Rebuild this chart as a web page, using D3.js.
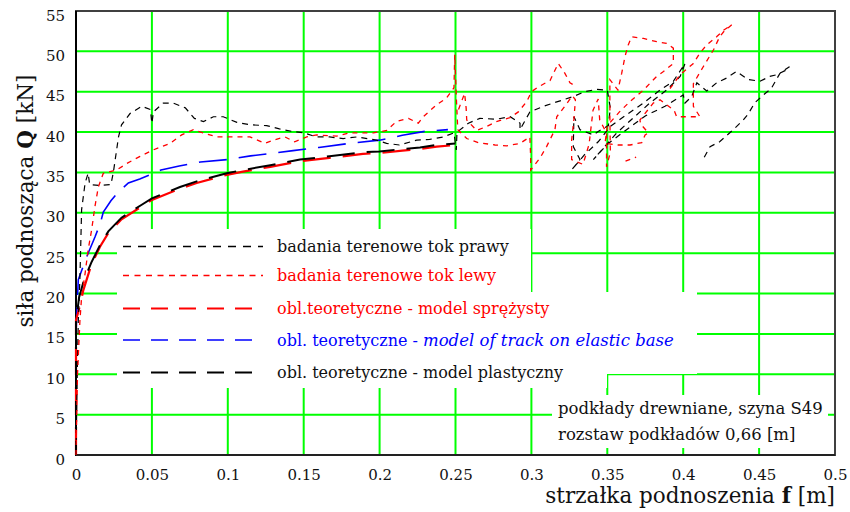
<!DOCTYPE html>
<html>
<head>
<meta charset="utf-8">
<script src="https://cdn.jsdelivr.net/npm/d3@7"></script>
<style>
body { margin: 0; background: #fff; }
svg text { font-family: "DejaVu Serif", serif; }
</style>
</head>
<body>
<svg id="chart" width="850" height="512"></svg>
<script>
// tick values / labels
const xTickValues = [0, 0.05, 0.1, 0.15, 0.2, 0.25, 0.3, 0.35, 0.4, 0.45, 0.5];
const xTickLabels = ["0", "0.05", "0.1", "0.15", "0.2", "0.25", "0.3", "0.35", "0.4", "0.45", "0.5"];
const yTickValues = [0, 5, 10, 15, 20, 25, 30, 35, 40, 45, 50, 55];

// badania terenowe tok prawy  [f, Q]
const tokPrawy = [[0,0],[0.001,12],[0.0015,16.5],[0.0026,22],[0.0037,30.4],[0.006,33.7],[0.008,34.9],[0.009,33.5],[0.015,33.4],[0.023,33.5],[0.0246,35],
  [0.028,39.4],[0.030,40.9],[0.0356,42.3],[0.0433,43.2],[0.049,42.8],[0.050,41.1],[0.051,42.5],[0.0575,43.6],[0.064,43.6],[0.072,43.0],[0.078,41.7],
  [0.084,41.3],[0.0905,41.9],[0.097,41.9],[0.106,41.2],[0.1146,40.9],[0.1256,40.8],[0.134,40.4],[0.142,40.1],[0.150,39.9],[0.1585,39.4],[0.167,39.4],
  [0.176,39.2],[0.185,39.4],[0.198,39.0],[0.2046,38.6],[0.213,38.4],[0.2244,39.0],[0.233,39.1],[0.242,39.4],[0.249,39.9],[0.2505,37.8],[0.251,40],
  [0.2585,41.1],[0.266,41.7],[0.277,41.6],[0.286,41.9],[0.2925,41.1],[0.2925,40.3],[0.299,42.5],[0.308,43.2],[0.3144,43.6],[0.321,44.0],[0.3276,44.4],
  [0.335,45.0],[0.343,45.3],[0.350,45.2],[0.352,43.0],[0.3507,40.8],[0.345,40.2],[0.3408,39.65],[0.332,40.3],[0.328,41.9],[0.3276,38.2],[0.332,36.6],
  [0.3265,35.3],[0.335,37.2],[0.344,38.8],[0.352,40.7],[0.3638,42.3],[0.3738,43.6],[0.3847,45.2],[0.3935,46.3],[0.4012,48.5],[0.398,46.9],[0.389,45.2],
  [0.378,43.6],[0.3562,39.9],[0.3408,36.6],[0.350,38.5],[0.362,40.2],[0.375,42.0],[0.388,43.2],[0.400,44.6],[0.4012,43.6],[0.4056,44.4],[0.409,46.1],
  [0.4155,45.1],[0.422,46.1],[0.4286,46.7],[0.435,47.5],[0.443,46.5],[0.4506,46.3],[0.457,46.9],[0.4616,47.1],[0.468,47.7],[0.470,48.1],[0.4638,47.3],
  [0.458,45.4],[0.4528,44.6],[0.447,43.6],[0.443,42.3],[0.4396,41.5],[0.433,40.3],[0.424,38.8],[0.4177,38.2],[0.413,36.6]];

// badania terenowe tok lewy  (null = break in the record)
const tokLewy = [[0,0],[0.001,10],[0.0026,16.7],[0.0037,19.6],[0.006,22.5],[0.008,25.4],[0.0103,27.9],[0.0125,30.8],[0.0147,33.2],[0.018,34.9],
  [0.0268,35.3],[0.0334,36.1],[0.0422,37.0],[0.051,37.8],[0.0619,38.6],[0.0696,39.65],[0.0773,40.3],[0.0839,39.9],[0.0927,39.4],[0.1036,39.4],
  [0.1146,39.4],[0.1245,38.6],[0.130,39.0],[0.1377,39.4],[0.144,38.8],[0.152,39.4],[0.1585,39.65],[0.1717,39.5],[0.180,39.9],[0.196,39.9],[0.2047,40.2],
  [0.211,41.3],[0.219,41.7],[0.2255,41.1],[0.2288,41.9],[0.2376,43.4],[0.244,44.2],[0.249,45.5],[0.2495,49.6],[0.2505,44.5],[0.2515,40.3],[0.2574,39.2],
  [0.265,38.7],[0.276,38.4],[0.2837,38.3],[0.2925,38.6],[0.299,39.4],[0.2995,37.0],[0.2995,35.3],[0.3057,36.8],[0.310,38.2],[0.3155,40.3],[0.3167,41.9],
  [0.322,43.2],[0.327,44.5],[0.329,44.0],[0.328,41.6],[0.3265,39.0],[0.3265,36.6],[0.334,36.0],[0.338,38.5],[0.3406,42.7],[0.344,44.1],[0.345,41.5],
  [0.3495,39.9],[0.3495,35.7],[0.352,37.5],[0.3517,42.0],[0.3517,46.5],[0.357,45.2],[0.3595,47.3],[0.3617,49.4],[0.3638,50.8],[0.366,51.8],[0.3738,51.6],
  [0.3825,51.2],[0.389,51.0],[0.3935,50.4],[0.3935,48.5],[0.387,47.5],[0.3825,46.9],[0.3738,45.2],[0.365,43.8],[0.358,42.5],[0.350,40.8],[0.3485,38.6],
  [0.357,38.4],[0.365,38.4],[0.3727,38.7],[0.3749,39.65],[0.377,39.9],[0.372,41.0],[0.3715,41.5],[0.3803,43.6],[0.3847,44.0],[0.394,42.7],[0.3957,41.9],
  [0.403,41.9],[0.411,41.9],[0.4067,43.2],[0.4067,46.0],[0.4132,48.1],[0.420,50.2],[0.424,51.8],[0.4265,52.4],[0.432,53.3],[0.4265,52.6],[0.422,51.8],
  [0.4155,50.8],[0.411,49.8],[0.4067,48.5],[0.398,47.1],[0.3913,45.4],
  null,
  [0.252,42.8],[0.256,44.8],[0.257,43.0],[0.2574,41.5],[0.264,40.2],[0.2705,40.7],[0.277,41.3],[0.286,41.8],[0.2914,42.5],[0.297,43.8],[0.300,45.0],
  [0.3046,45.6],[0.3123,46.4],[0.3177,48.5],[0.322,47.3],[0.3254,46.1],[0.330,45.6],
  null,
  [0.362,36.4],[0.369,36.9]];

// obl. teoretyczne - model sprezysty
const modelSprezysty = [[0,0],[0,16.7],[0.0026,18.5],[0.0048,20.4],[0.010,23.5],[0.0158,25.8],[0.0213,27.5],[0.030,29.2],[0.0433,30.8],[0.050,31.6],
  [0.0685,33.0],[0.0795,33.7],[0.0993,34.7],[0.110,35.1],[0.128,35.7],[0.1476,36.4],[0.167,36.8],[0.189,37.3],[0.200,37.4],[0.215,37.7],[0.2266,37.9],
  [0.2376,38.2],[0.250,38.4]];

// obl. teoretyczne - model of track on elastic base
const modelPodloze = [[0,0],[0,15],[0.0015,21.7],[0.005,23.5],[0.008,25.0],[0.0125,27.0],[0.016,28.7],[0.018,30.1],[0.023,31.5],[0.028,32.6],
  [0.0345,33.7],[0.042,34.2],[0.0487,34.7],[0.056,35.3],[0.068,35.8],[0.082,36.3],[0.100,36.6],[0.115,37.05],[0.130,37.4],[0.143,37.7],[0.160,38.1],
  [0.180,38.6],[0.200,39.0],[0.215,39.6],[0.230,40.1],[0.245,40.3]];

// obl. teoretyczne - model plastyczny
const modelPlastyczny = [[0,0],[0,16.5],[0.002,19.5],[0.005,21.5],[0.010,23.8],[0.0158,26.0],[0.0213,27.7],[0.030,29.4],[0.0433,31.0],[0.050,31.8],
  [0.0685,33.2],[0.0795,33.9],[0.0993,34.9],[0.110,35.3],[0.128,35.9],[0.1476,36.6],[0.167,37.0],[0.189,37.5],[0.200,37.6],[0.215,37.9],[0.2266,38.1],
  [0.2376,38.4],[0.250,38.6]];

const legendLabels = [
  [["badania terenowe tok prawy", false]],
  [["badania terenowe tok lewy", false]],
  [["obl.teoretyczne - model sprężysty", false]],
  [["obl. teoretyczne - ", false], ["model of track on elastic base", true]],
  [["obl. teoretyczne - model plastyczny", false]]
];
const noteLines = ["podkłady drewniane, szyna S49", "rozstaw podkładów 0,66 [m]"];

const series = [
  {data: modelPodloze, color: "#0000ff", width: 1.6, dash: "28,12", legendDash: "17,11", legendRow: 3},
  {data: modelSprezysty, color: "#ff0000", width: 2.2, dash: "28,12", legendDash: "17,11", legendRow: 2},
  {data: modelPlastyczny, color: "#000000", width: 2, dash: "28,12", legendDash: "17,11", offset: 14, legendRow: 4},
  {data: tokPrawy, color: "#000000", width: 1.2, dash: "6,5", legendDash: "8,7", legendRow: 0},
  {data: tokLewy, color: "#ff0000", width: 1.3, dash: "5,5", legendDash: "6,5.5", legendRow: 1}
];

const svg = d3.select("#chart");
const x = d3.scaleLinear().domain([0, 0.5]).range([76, 835]);
const y = d3.scaleLinear().domain([0, 55]).range([455, 11]);

// grid
const grid = svg.append("g").attr("stroke", "#00ff00").attr("stroke-width", 2);
grid.selectAll(".gx").data(xTickValues.slice(1, -1)).join("line")
    .attr("x1", d => x(d)).attr("x2", d => x(d)).attr("y1", y(55)).attr("y2", y(0));
grid.selectAll(".gy").data(yTickValues.slice(1, -1)).join("line")
    .attr("y1", d => y(d)).attr("y2", d => y(d)).attr("x1", x(0)).attr("x2", x(0.5));

// white backgrounds of the text regions (they hide the grid)
const boxes = [[117, 229, 531, 292], [117, 292, 697, 374], [117, 374, 607, 388], [552, 395, 828, 448]];
svg.append("g").selectAll("rect").data(boxes).join("rect")
    .attr("x", d => d[0]).attr("y", d => d[1])
    .attr("width", d => d[2] - d[0]).attr("height", d => d[3] - d[1])
    .attr("fill", "#fff");

// frame
svg.append("rect").attr("x", x(0)).attr("y", y(55)).attr("width", x(0.5) - x(0)).attr("height", y(0) - y(55))
    .attr("fill", "none").attr("stroke", "#404040").attr("stroke-width", 2);
svg.append("line").attr("x1", x(0)).attr("x2", x(0)).attr("y1", y(55)).attr("y2", y(0) + 1)
    .attr("stroke", "#000").attr("stroke-width", 2);
svg.append("line").attr("x1", x(0)).attr("x2", x(0.5)).attr("y1", y(0)).attr("y2", y(0))
    .attr("stroke", "#222").attr("stroke-width", 2);

// curves
const line = d3.line().defined(d => d !== null).x(d => x(d[0])).y(d => y(d[1]));
series.forEach(s => {
    svg.append("path").datum(s.data)
        .attr("d", line)
        .attr("fill", "none")
        .attr("stroke", s.color)
        .attr("stroke-width", s.width)
        .attr("stroke-dasharray", s.dash)
        .attr("stroke-dashoffset", s.offset || 0);
});

// axes
const gx = svg.append("g").attr("transform", `translate(0,${y(0)})`)
    .call(d3.axisBottom(x).tickValues(xTickValues).tickFormat((d, i) => xTickLabels[i]).tickSize(0).tickPadding(14));
gx.select(".domain").remove();
gx.selectAll("text").attr("font-size", 15).attr("fill", "#111").attr("font-family", "DejaVu Serif");

const gy = svg.append("g").attr("transform", `translate(${x(0)},0)`)
    .call(d3.axisLeft(y).tickValues(yTickValues).tickSize(0).tickPadding(11));
gy.select(".domain").remove();
gy.selectAll("text").attr("font-size", 15).attr("fill", "#111").attr("font-family", "DejaVu Serif").attr("dy", "0.6em");

// axis titles
const yTitle = svg.append("text").attr("transform", "translate(33,201) rotate(-90)")
    .attr("text-anchor", "middle").attr("font-size", 21.5).attr("fill", "#111");
yTitle.append("tspan").text("siła podnosząca ");
yTitle.append("tspan").attr("font-weight", "bold").text("Q");
yTitle.append("tspan").text(" [kN]");

const xTitle = svg.append("text").attr("x", 835).attr("y", 503)
    .attr("text-anchor", "end").attr("font-size", 21.5).attr("fill", "#111");
xTitle.append("tspan").text("strzałka podnoszenia ");
xTitle.append("tspan").attr("font-weight", "bold").text("f");
xTitle.append("tspan").text(" [m]");

// legend
const rowY = [246.5, 275.5, 308.5, 340, 372.5];
series.forEach(s => {
    const r = s.legendRow;
    svg.append("line").attr("x1", 123).attr("x2", 263).attr("y1", rowY[r]).attr("y2", rowY[r])
        .attr("stroke", s.color).attr("stroke-width", Math.max(s.width, 1.5)).attr("stroke-dasharray", s.legendDash);
    const t = svg.append("text").attr("x", 277).attr("y", rowY[r] + 5.5)
        .attr("font-size", 16).attr("fill", s.color === "#000000" ? "#111" : s.color);
    legendLabels[r].forEach(p => {
        t.append("tspan").attr("font-style", p[1] ? "italic" : null)
            .attr("font-size", p[1] ? 16.5 : null).text(p[0]);
    });
});

// note
svg.append("g").selectAll("text").data(noteLines).join("text")
    .attr("x", 558).attr("y", (d, i) => 414 + i * 26)
    .attr("font-size", 16.5).attr("fill", "#111")
    .text(d => d);
</script>
</body>
</html>
